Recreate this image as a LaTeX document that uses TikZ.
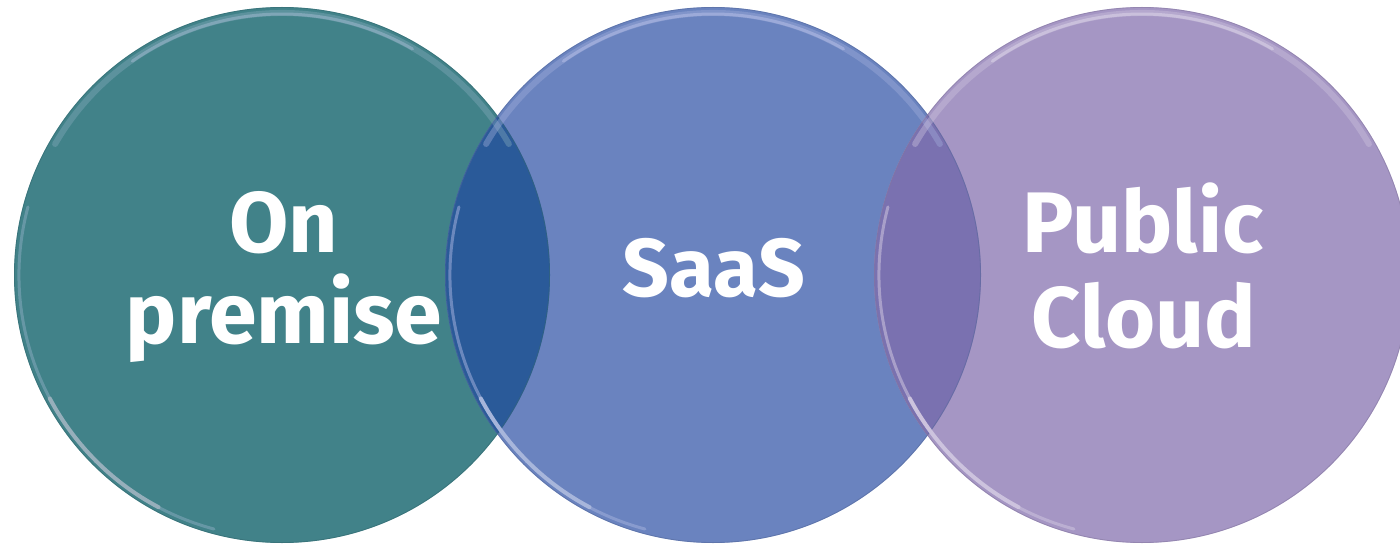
\documentclass[tikz,border=0pt]{standalone}
\usepackage{fontspec}
\setmainfont{Fira Sans}
\usetikzlibrary{calc}
\begin{document}
\begin{tikzpicture}[x=1pt,y=-1pt,
  lbl/.style={text=white,font=\bfseries\fontsize{86}{90}\selectfont,inner sep=0pt,anchor=base},
  lblsmall/.style={lbl,font=\bfseries\fontsize{82}{86}\selectfont},
  rimlight/.style={line width=3pt,line cap=round},
  rimdark/.style={line width=0.8pt}]
\definecolor{tealc}{HTML}{418289}
\definecolor{bluec}{HTML}{6A83BF}
\definecolor{lilac}{HTML}{A596C4}
\definecolor{lensA}{HTML}{2A5A99}
\definecolor{lensB}{HTML}{7A71B0}
\useasboundingbox (0,0) rectangle (1400,548);
\def\R{268}
% circle centres (y grows downwards, so angles run clockwise)
\coordinate (c1) at (282,275);
\coordinate (c2) at (713,275);
\coordinate (c3) at (1142,275);
% plain fills
\fill[tealc] (c1) circle (\R);
\fill[bluec] (c2) circle (\R);
\fill[lilac] (c3) circle (\R);
% overlaps
\begin{scope}
  \clip (c1) circle (\R);
  \fill[lensA] (c2) circle (\R);
\end{scope}
\begin{scope}
  \clip (c2) circle (\R);
  \fill[lensB] (c3) circle (\R);
\end{scope}
% bevel rims: thin dark outline, light band along the top, bright glint lower left
\begin{scope}
  \clip (0,0) rectangle (1400,548);
  \foreach \c/\lt/\dk in {c1/{cyan!35!white!40!tealc}/{tealc!80!black},
                          c2/{blue!10!white!45!bluec}/{bluec!80!black},
                          c3/{white!45!lilac}/{lilac!80!black}}{
    \draw[rimdark,\dk,opacity=0.5] (\c) circle (\R-0.5);
    % top band
    \draw[rimlight,\lt,opacity=0.4,line width=6pt] ($(\c)+(-150:\R-6)$) arc[start angle=-150,end angle=-30,radius=\R-6];
    \draw[rimlight,\lt,opacity=0.85,line width=3pt] ($(\c)+(-125:\R-7)$) arc[start angle=-125,end angle=-60,radius=\R-7];
    % lower-left glint
    \draw[rimlight,\lt,opacity=0.55,line width=3pt] ($(\c)+(195:\R-5)$) arc[start angle=195,end angle=105,radius=\R-5];
    \draw[rimlight,white!75!\lt,opacity=0.95,line width=4pt] ($(\c)+(152:\R-5)$) arc[start angle=152,end angle=118,radius=\R-5];
  }
\end{scope}
% labels
\node[lbl] (on1) at (284,252) {On};
\node[lbl] (on2) at (284,343) {premise};
\node[lblsmall] (saas) at (714,296) {SaaS};
\node[lbl] (pub1) at (1143,252) {Public};
\node[lbl] (pub2) at (1144,347) {Cloud};
\end{tikzpicture}
\end{document}
